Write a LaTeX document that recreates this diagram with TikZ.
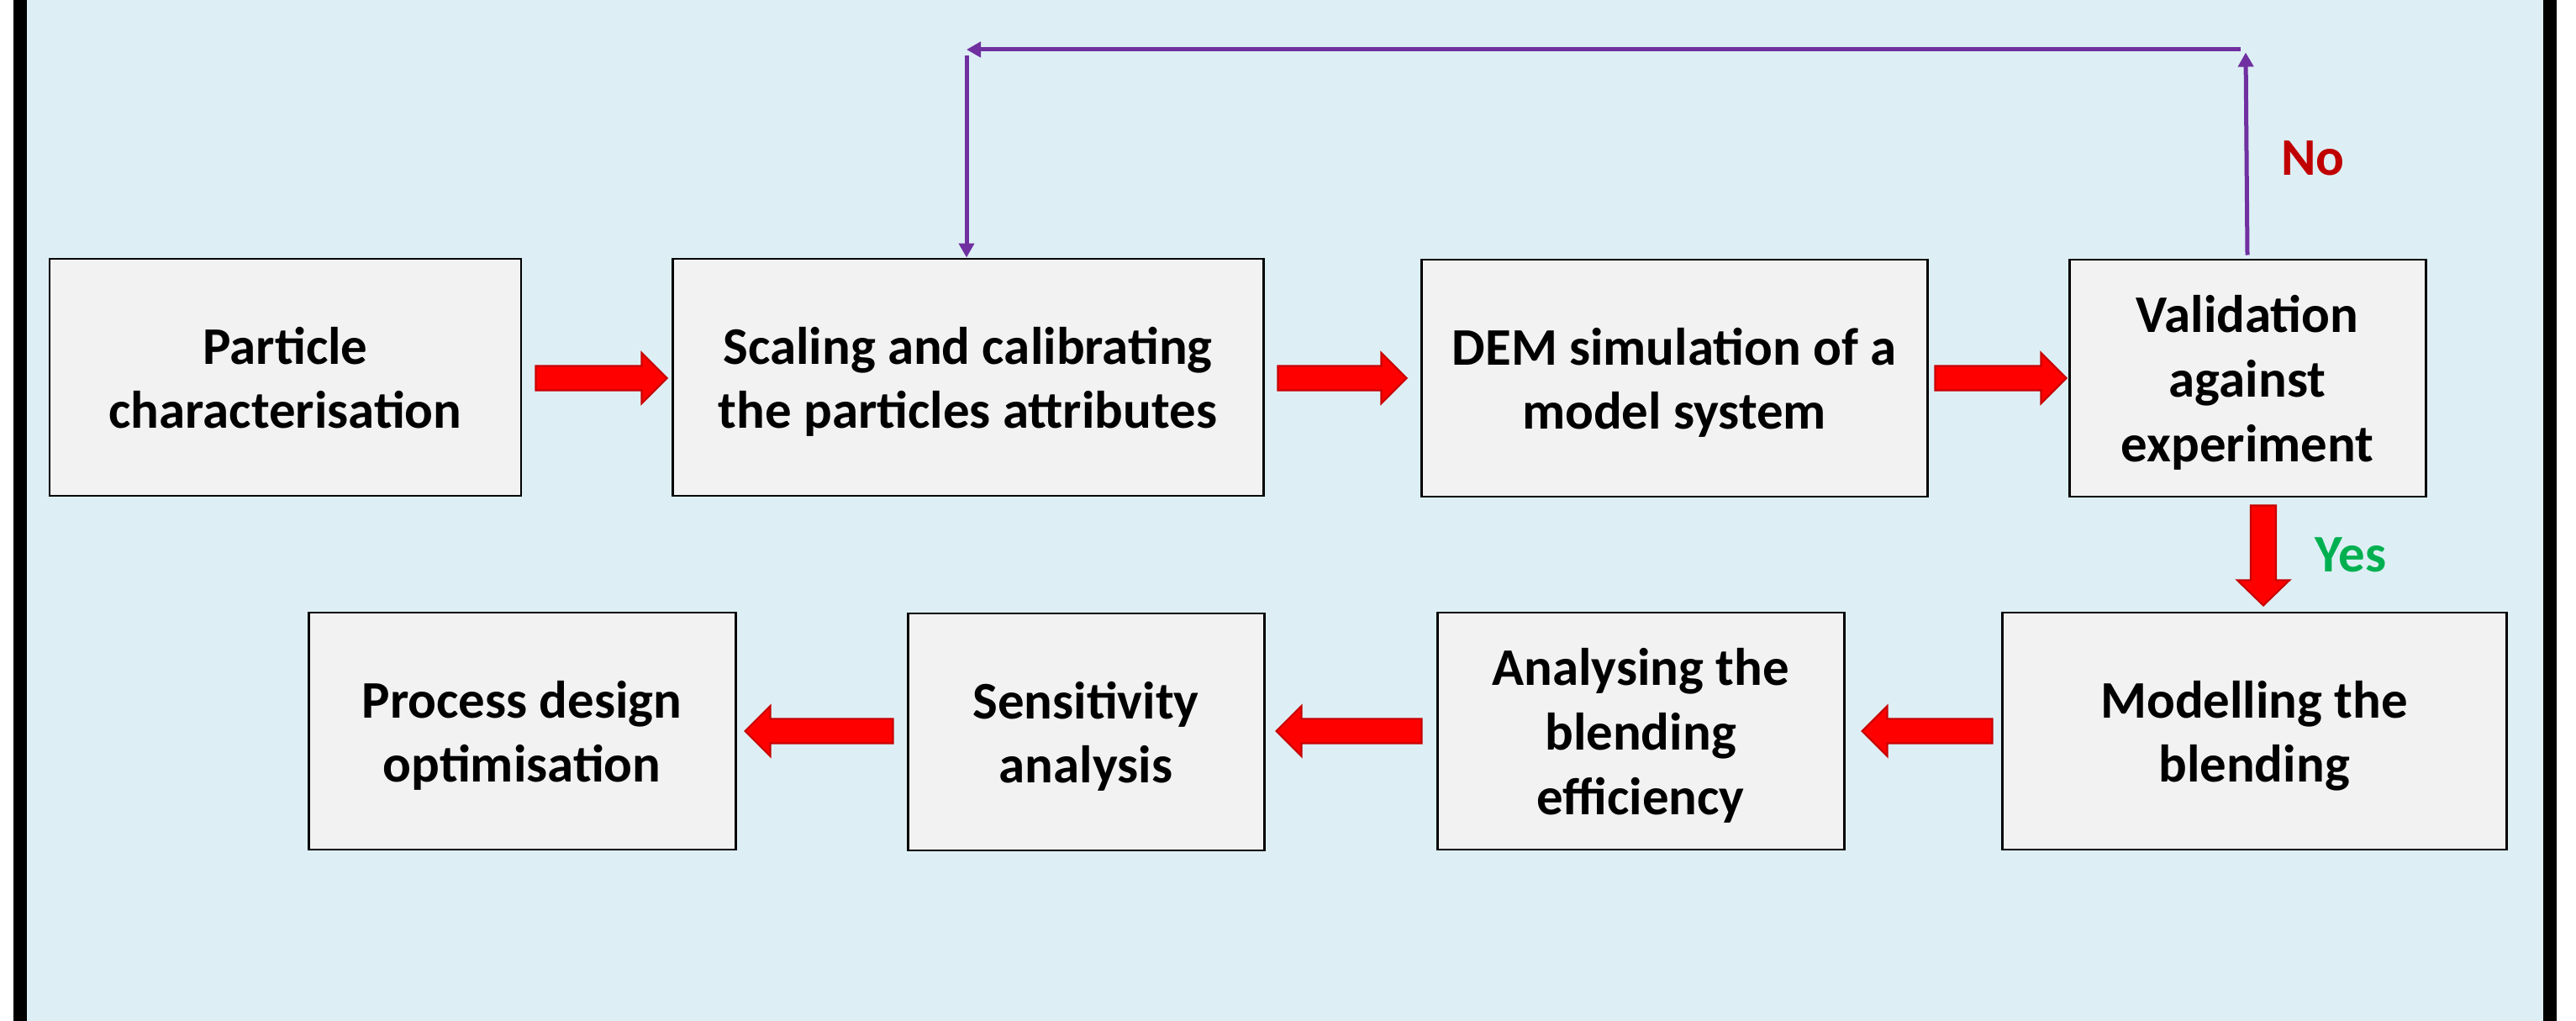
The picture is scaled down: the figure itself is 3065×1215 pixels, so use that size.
\documentclass[tikz,border=0pt]{standalone}
\usepackage{fontspec}
\setmainfont{Carlito}
\usetikzlibrary{calc,arrows.meta}
\definecolor{bgblue}{RGB}{221,239,245}
\definecolor{boxgray}{RGB}{242,242,242}
\definecolor{arrred}{RGB}{255,0,0}
\definecolor{arredge}{RGB}{200,0,0}
\definecolor{loopc}{RGB}{112,48,160}
\definecolor{nored}{RGB}{192,0,0}
\definecolor{yesgreen}{RGB}{0,176,80}
\newcommand\lnstrut{\rule[-1.5mm]{0pt}{7.5mm}}
\tikzset{
  txt/.style={font=\bfseries\fontsize{17.9pt}{21.9pt}\selectfont},
  stepbox/.style={txt, draw=black, line width=0.85pt, fill=boxgray, align=center,
    inner sep=0pt, minimum height=28.2mm},
  blockarr/.style={fill=arrred, draw=arredge, line width=0.6pt, line join=miter},
  loopline/.style={draw=loopc, line width=0.5mm, -{Triangle[length=1.7mm,width=1.8mm]}}
}
% #1 direction (1 = right, -1 = left), #2 tail, #3 tip
\newcommand\harr[3]{%
  \filldraw[blockarr] let \p1=#2, \p2=#3, \n1={#1*3mm} in
   (\x1,{\y1+1.45mm}) -- ({\x2-\n1},{\y1+1.45mm}) -- ({\x2-\n1},{\y1+3mm}) -- (\x2,\y1)
   -- ({\x2-\n1},{\y1-3mm}) -- ({\x2-\n1},{\y1-1.45mm}) -- (\x1,{\y1-1.45mm}) -- cycle;}
\begin{document}
\begin{tikzpicture}[x=0.1mm,y=-0.1mm]
\useasboundingbox (0,0) rectangle (3065,1215);
\fill[white] (0,0) rectangle (3065,1215);
\fill[black] (16,0) rectangle (32,1215);
\fill[bgblue] (32,0) rectangle (3026,1215);
\fill[black] (3026,0) rectangle (3042,1215);

% row 1
\node[stepbox, minimum width=56.1mm] (b1) at (339.5,449) {\lnstrut Particle\\\lnstrut characterisation};
\node[stepbox, minimum width=70.3mm] (b2) at (1151.5,449) {\lnstrut Scaling and calibrating\\\lnstrut the particles attributes};
\node[stepbox, minimum width=60.2mm] (b3) at (1992,450) {\lnstrut DEM simulation of a\\\lnstrut model system};
\node[stepbox, minimum width=42.4mm] (b4) at (2674,450) {\lnstrut Validation\\\lnstrut against\\\lnstrut experiment};
% row 2
\node[stepbox, minimum width=50.8mm] (b5) at (621,870) {\lnstrut Process design\\\lnstrut optimisation};
\node[stepbox, minimum width=42.4mm] (b6) at (1292,871) {\lnstrut Sensitivity\\\lnstrut analysis};
\node[stepbox, minimum width=48.4mm] (b7) at (1952,870) {\lnstrut Analysing the\\\lnstrut blending\\\lnstrut efficiency};
\node[stepbox, minimum width=60.0mm] (b8) at (2682,870) {\lnstrut Modelling the\\\lnstrut blending};

% red block arrows
\harr{1}{($(b1.east)+(16,1)$)}{($(b2.west)+(-5,1)$)}
\harr{1}{($(b2.east)+(16,1)$)}{($(b3.west)+(-16,1)$)}
\harr{1}{($(b3.east)+(8,0)$)}{($(b4.west)+(-2,0)$)}
\harr{-1}{($(b8.west)+(-10,0)$)}{($(b7.east)+(20,0)$)}
\harr{-1}{($(b7.west)+(-17,0)$)}{($(b6.east)+(13,-1)$)}
\harr{-1}{($(b6.west)+(-16,-1)$)}{($(b5.east)+(10,0)$)}

\coordinate (dtail) at ($(b4.south)+(19,9)$);
\coordinate (dtip) at ($(b8.north)+(11,-7)$);
\filldraw[blockarr] let \p1=(dtail), \p2=(dtip) in
  ({\x1-1.5mm},\y1) -- ({\x1-1.5mm},{\y2+3mm}) -- ({\x1-3.1mm},{\y2+3mm}) -- (\x1,\y2)
  -- ({\x1+3.1mm},{\y2+3mm}) -- ({\x1+1.5mm},{\y2+3mm}) -- ({\x1+1.5mm},\y1) -- cycle;

% feedback loop
\coordinate (upend) at ($(b4.north)+(-2,-245)$);
\coordinate (hr) at (2666,59);
\coordinate (hl) at (1150,59);
\coordinate (dtop) at (1150,66);
\draw[loopline] ($(b4.north)+(0,-4)$) -- (upend);
\draw[loopline] (hr) -- (hl);
\draw[loopline] (dtop) -- (dtop |- b2.north);

% labels
\node[txt, text=nored, inner sep=0pt] (no) at (2752,188) {No};
\node[txt, text=yesgreen, inner sep=0pt] (yes) at (2797,660) {Yes};
\end{tikzpicture}
\end{document}
